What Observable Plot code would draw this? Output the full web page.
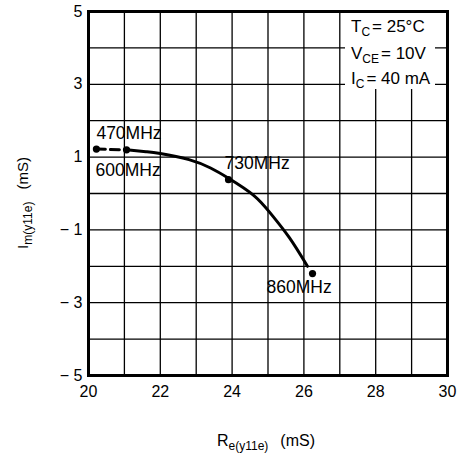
<!DOCTYPE html>
<html><head><meta charset="utf-8">
<script src="https://cdn.jsdelivr.net/npm/d3@7"></script>
<script src="https://cdn.jsdelivr.net/npm/@observablehq/plot@0.6"></script>
<style>
body{margin:0;background:#fff;}
#chart svg{display:block;}
</style>
</head><body><div id="chart"></div>
<script>
// measured points (frequency markers)
const freqLabels = ["470MHz", "600MHz", "730MHz", "860MHz"];
const reY11e = [20.22, 21.06, 23.9, 26.24];
const imY11e = [1.22, 1.2, 0.38, -2.2];
// traced solid curve
const traceRe = [21.06, 21.6, 22.0, 22.8, 23.4, 23.9, 24.6, 25.1, 25.6, 26.1];
const traceIm = [1.2, 1.15, 1.1, 0.93, 0.7, 0.42, -0.05, -0.58, -1.22, -2.0];
// axis ticks
const xTicks = [20, 22, 24, 26, 28, 30];
const yTicks = [-5, -3, -1, 1, 3, 5];
const xGrid = [20, 21, 22, 23, 24, 25, 26, 27, 28, 29, 30];
const yGrid = [-5, -4, -3, -2, -1, 0, 1, 2, 3, 4, 5];
// conditions
const condMain = ["T", "V", "I"];
const condSub = ["C", "CE", "C"];
const condRest = ["= 25°C", "= 10V", "= 40 mA"];

const pts = freqLabels.map((f, i) => ({f, x: reY11e[i], y: imY11e[i]}));
const trace = traceRe.map((x, i) => ({x, y: traceIm[i]}));
const dashed = pts.slice(0, 2);

const font = "'Liberation Sans', Arial, sans-serif";
const lbl = (i, dx, dy) => Plot.text([pts[i]], {x: "x", y: "y", text: "f", dx, dy, textAnchor: "start", fontSize: 17.5, fill: "#000"});

const plot = Plot.plot({
  width: 460, height: 457,
  marginLeft: 88, marginRight: 13, marginTop: 11, marginBottom: 82,
  style: {fontFamily: font, fontSize: "16px", color: "#000", background: "#fff"},
  x: {domain: [20, 30], ticks: xTicks, tickSize: 0, tickPadding: 10, label: null},
  y: {domain: [-5, 5], ticks: yTicks, tickSize: 0, tickPadding: 6, label: null,
      tickFormat: d => d < 0 ? "\u2212 " + Math.abs(d) : String(d)},
  marks: [
    Plot.ruleX(xGrid, {stroke: "#000", strokeWidth: 1.3}),
    Plot.ruleY(yGrid, {stroke: "#000", strokeWidth: 1.3}),
    Plot.frame({stroke: "#000", strokeWidth: 3}),
    Plot.line(dashed, {x: "x", y: "y", stroke: "#000", strokeWidth: 3, strokeDasharray: "9,5"}),
    Plot.line(trace, {x: "x", y: "y", stroke: "#000", strokeWidth: 3, curve: "natural"}),
    Plot.dot(pts, {x: "x", y: "y", r: 3.6, fill: "#000"}),
    lbl(0, 0, -16),
    lbl(1, -31, 21),
    lbl(2, -4, -16),
    lbl(3, -46, 14)
  ]
});

const svg = d3.select(plot);
// condition box
const bx = 345, by = 13;
svg.append("rect").attr("x", bx).attr("y", by).attr("width", 90).attr("height", 76)
  .style("fill", "#fff").style("stroke", "none");
const baselines = [32, 59, 84];
condMain.forEach((m, i) => {
  const t = svg.append("text").attr("x", bx + 6).attr("y", baselines[i]).attr("text-anchor", "start")
    .style("font-family", font).style("font-size", "17px").style("fill", "#000");
  t.append("tspan").text(m);
  t.append("tspan").style("font-size", "12px").attr("dy", 4).text(condSub[i]);
  t.append("tspan").attr("dy", -4).attr("dx", 2).text(condRest[i]);
});
// x axis label
const xl = svg.append("text").attr("x", 266).attr("y", 446).attr("text-anchor", "middle")
  .style("font-family", font).style("font-size", "16px").style("fill", "#000");
xl.append("tspan").text("R");
xl.append("tspan").style("font-size", "12px").attr("dy", 4).text("e(y11e)");
xl.append("tspan").attr("dy", -4).attr("dx", 12).text("(mS)");
// y axis label
const yl = svg.append("text").attr("transform", "translate(28,203) rotate(-90)").attr("text-anchor", "middle")
  .style("font-family", font).style("font-size", "15px").style("fill", "#000");
yl.append("tspan").text("I");
yl.append("tspan").style("font-size", "12px").attr("dy", 4).text("m(y11e)");
yl.append("tspan").attr("dy", -4).attr("dx", 12).text("(mS)");

document.getElementById("chart").appendChild(plot);
</script>
</body></html>
